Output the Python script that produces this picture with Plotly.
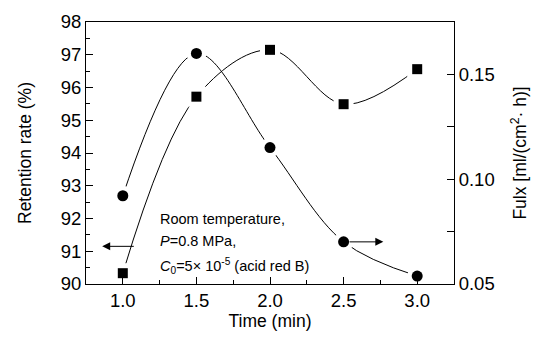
import plotly.graph_objects as go

time_min = [1.0, 1.5, 2.0, 2.5, 3.0]
retention = [90.33, 95.72, 97.15, 95.49, 96.56]
flux = [0.0921, 0.1600, 0.1151, 0.0701, 0.0538]

x_ticks = [1.0, 1.5, 2.0, 2.5, 3.0]
x_tick_text = ["1.0", "1.5", "2.0", "2.5", "3.0"]
left_ticks = [90, 91, 92, 93, 94, 95, 96, 97, 98]
right_ticks = [0.05, 0.10, 0.15]
right_tick_text = ["0.05", "0.10", "0.15"]

FONT = "Liberation Sans, Arial, sans-serif"

fig = go.Figure()

# Retention (squares, left axis)
fig.add_trace(go.Scatter(x=time_min, y=retention, mode="lines", line=dict(color="black", width=1, shape="spline", smoothing=1.0), yaxis="y", hoverinfo="skip"))
fig.add_trace(go.Scatter(x=time_min, y=retention, mode="markers", marker=dict(symbol="square", size=20, color="white"), yaxis="y", hoverinfo="skip"))
fig.add_trace(go.Scatter(x=time_min, y=retention, mode="markers", marker=dict(symbol="square", size=10, color="black"), yaxis="y"))

# Flux (circles, right axis)
fig.add_trace(go.Scatter(x=time_min, y=flux, mode="lines", line=dict(color="black", width=1, shape="spline", smoothing=1.0), yaxis="y2", hoverinfo="skip"))
fig.add_trace(go.Scatter(x=time_min, y=flux, mode="markers", marker=dict(symbol="circle", size=20, color="white"), yaxis="y2", hoverinfo="skip"))
fig.add_trace(go.Scatter(x=time_min, y=flux, mode="markers", marker=dict(symbol="circle", size=11, color="black"), yaxis="y2"))

# Arrows
fig.add_annotation(x=0.86, y=91.15, ax=1.085, ay=91.15, xref="x", yref="y", axref="x", ayref="y",
                   text="", showarrow=True, arrowhead=2, arrowsize=1.6, arrowwidth=1, arrowcolor="black")
fig.add_annotation(x=2.77, y=flux[3], ax=2.53, ay=flux[3], xref="x", yref="y2", axref="x", ayref="y2",
                   text="", showarrow=True, arrowhead=2, arrowsize=1.6, arrowwidth=1, arrowcolor="black")

# Condition text
lines = ["Room temperature,", "<i>P</i>=0.8 MPa,", "<i>C</i><sub>0</sub>=5× 10<sup>-5</sup> (acid red B)"]
line_y = [92.0, 91.3, 90.55]
for t, yy in zip(lines, line_y):
    fig.add_annotation(x=1.24, y=yy, xref="x", yref="y", text=t, showarrow=False,
                       xanchor="left", yanchor="middle", font=dict(family=FONT, size=14.5, color="black"))

fig.update_layout(
    width=534, height=339,
    margin=dict(l=86, r=80, t=22, b=55, autoexpand=False),
    paper_bgcolor="white", plot_bgcolor="white",
    showlegend=False,
    font=dict(family=FONT, size=17, color="black"),
    xaxis=dict(range=[0.75, 3.25], tickvals=x_ticks, ticktext=x_tick_text,
               ticks="inside", ticklen=7, tickwidth=1, tickcolor="black",
               minor=dict(dtick=0.25, tick0=0.75, ticks="inside", ticklen=4, tickcolor="black"),
               showline=True, linecolor="black", linewidth=1, mirror=True,
               showgrid=False, zeroline=False, automargin=False,
               title=dict(text="Time (min)", font=dict(size=17.5), standoff=3),
               tickfont=dict(size=18.5)),
    yaxis=dict(range=[90, 98], tickvals=left_ticks,
               ticks="inside", ticklen=7, tickwidth=1, tickcolor="black",
               minor=dict(dtick=0.5, tick0=90, ticks="inside", ticklen=4, tickcolor="black"),
               showline=True, linecolor="black", linewidth=1,
               showgrid=False, zeroline=False, automargin=False,
               title=dict(text="Retention rate (%)", font=dict(size=17.5), standoff=24),
               tickfont=dict(size=18.5)),
    yaxis2=dict(range=[0.05, 0.175], overlaying="y", side="right",
                tickvals=right_ticks, ticktext=right_tick_text,
                ticks="inside", ticklen=7, tickwidth=1, tickcolor="black",
                minor=dict(dtick=0.025, tick0=0.05, ticks="inside", ticklen=7, tickcolor="black"),
                showline=True, linecolor="black", linewidth=1,
                showgrid=False, zeroline=False, automargin=False,
                title=dict(text="Fulx [ml/(cm<sup>2</sup>· h)]", font=dict(size=17.5), standoff=20),
                tickfont=dict(size=18.5)),
)

fig.write_html("out.html", config={"displayModeBar": False},
               post_script="document.body.style.margin='0px';")
